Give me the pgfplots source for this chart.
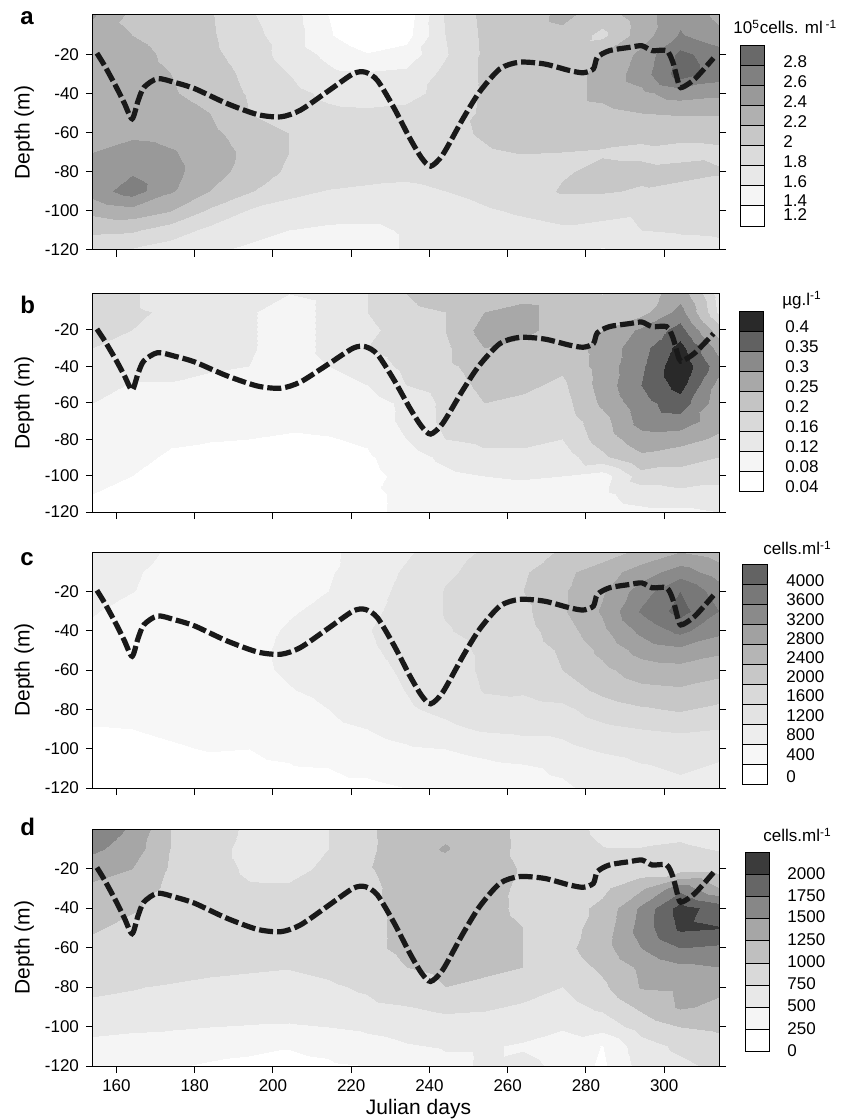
\documentclass[border=0pt]{standalone}
\usepackage{fontspec}
\setmainfont{Liberation Sans}
\usepackage{pgfplots}
\pgfplotsset{compat=1.18}

\pgfplotsset{
  panel/.style={
    scale only axis, anchor=north west, width=313pt,
    xmin=154, xmax=314, ymin=-120, ymax=0,
    xtick={160,180,...,300}, ytick={-120,-100,...,-20},
    xtick pos=left, ytick pos=both, yticklabel pos=left,
    tick align=outside, major tick length=3.5pt,
    every tick/.style={black, line width=0.5pt},
    axis line style={line width=0.5pt},
    tick label style={font=\fontsize{8.5}{10}\selectfont},
    /pgf/number format/assume math mode=true,
    ylabel={Depth (m)},
    ylabel style={font=\fontsize{10.5}{12}\selectfont,
      at={(axis description cs:-0.110,0.5)}, anchor=center},
    axis on top,
  },
  cbar/.style={
    scale only axis, anchor=north west, xmin=0, xmax=1, ymin=0,
    hide axis, ybar stacked, bar width=1, clip=false,
    every axis plot/.append style={draw=black, line width=0.5pt},
  },
  field/.style={surf, shader=interp, colormap access=piecewise constant,
    mesh/cols=17, point meta=\thisrow{v}},
}

% mixed layer depth (same line in all panels)
\newcommand{\mld}{\addplot[black!90, line width=2.6pt, dash pattern=on 7pt off 2pt,
  smooth, tension=0.45] coordinates {(155,-19.5) (157,-26) (160,-37) (162,-45)
  (164,-53) (165.5,-44) (167,-37) (170.5,-32.5) (175,-34.5) (180,-37.6) (188,-45)
  (196,-50.8) (202,-52) (207,-48.6) (214,-39) (220.5,-30) (223.6,-29.2)
  (226.7,-33.4) (231,-47.7) (235,-63) (238,-73) (240.3,-77.2) (243.4,-71.3)
  (248.6,-52.8) (252.8,-39.3) (258,-27.5) (263,-24.1) (269.4,-25) (275.7,-28.3)
  (279.3,-29.5) (281.9,-27.5) (282.9,-21.6) (286,-18.2) (291.2,-16.5)
  (294.3,-15.7) (296.9,-18.2) (300.6,-18.2) (302.2,-24.1) (303.8,-35.9)
  (304.8,-36.8) (307.9,-32.5) (312.6,-22)};}

\begin{document}
\begin{tikzpicture}
\useasboundingbox (0,0) rectangle (426.5pt,-559.5pt);

% ---------------- a ----------------
\begin{axis}[panel, at={(46.5pt,-7.5pt)}, height=117.5pt, xticklabels={},
  colormap={pa}{color(0cm)=(white) color(1cm)=(black!4) color(2cm)=(black!9)
    color(3cm)=(black!14) color(4cm)=(black!22) color(5cm)=(black!31)
    color(6cm)=(black!40) color(7cm)=(black!50) color(8cm)=(black!59) color(9cm)=(black!59)},
  point meta min=1.2, point meta max=3.0]
\addplot[field] table[row sep=\\] {
x y v\\
154 0 2.42\\ 164 0 2.15\\ 174 0 2.10\\ 184 0 2.02\\ 194 0 1.82\\ 204 0 1.70\\ 214 0 1.40\\ 224 0 1.25\\ 234 0 1.28\\ 244 0 1.82\\ 254 0 2.05\\ 264 0 2.10\\ 274 0 2.25\\ 284 0 2.10\\ 294 0 2.30\\ 304 0 2.55\\ 314 0 2.35\\
154 -10 2.30\\ 164 -10 2.20\\ 174 -10 2.10\\ 184 -10 2.03\\ 194 -10 1.85\\ 204 -10 1.72\\ 214 -10 1.42\\ 224 -10 1.25\\ 234 -10 1.32\\ 244 -10 1.80\\ 254 -10 2.04\\ 264 -10 2.10\\ 274 -10 2.15\\ 284 -10 1.95\\ 294 -10 2.30\\ 304 -10 2.62\\ 314 -10 2.45\\
154 -20 2.30\\ 164 -20 2.28\\ 174 -20 2.15\\ 184 -20 2.05\\ 194 -20 1.90\\ 204 -20 1.72\\ 214 -20 1.55\\ 224 -20 1.41\\ 234 -20 1.48\\ 244 -20 1.78\\ 254 -20 2.03\\ 264 -20 2.10\\ 274 -20 2.12\\ 284 -20 2.20\\ 294 -20 2.45\\ 304 -20 2.85\\ 314 -20 2.70\\
154 -30 2.30\\ 164 -30 2.30\\ 174 -30 2.20\\ 184 -30 2.10\\ 194 -30 1.95\\ 204 -30 1.80\\ 214 -30 1.65\\ 224 -30 1.62\\ 234 -30 1.65\\ 244 -30 1.85\\ 254 -30 2.03\\ 264 -30 2.10\\ 274 -30 2.12\\ 284 -30 2.25\\ 294 -30 2.50\\ 304 -30 2.90\\ 314 -30 2.70\\
154 -40 2.30\\ 164 -40 2.30\\ 174 -40 2.22\\ 184 -40 2.12\\ 194 -40 1.98\\ 204 -40 1.86\\ 214 -40 1.76\\ 224 -40 1.72\\ 234 -40 1.74\\ 244 -40 1.86\\ 254 -40 2.02\\ 264 -40 2.08\\ 274 -40 2.12\\ 284 -40 2.25\\ 294 -40 2.35\\ 304 -40 2.50\\ 314 -40 2.45\\
154 -50 2.30\\ 164 -50 2.32\\ 174 -50 2.30\\ 184 -50 2.20\\ 194 -50 2.00\\ 204 -50 1.90\\ 214 -50 1.84\\ 224 -50 1.83\\ 234 -50 1.85\\ 244 -50 1.90\\ 254 -50 2.03\\ 264 -50 2.06\\ 274 -50 2.12\\ 284 -50 2.15\\ 294 -50 2.20\\ 304 -50 2.22\\ 314 -50 2.22\\
154 -60 2.35\\ 164 -60 2.35\\ 174 -60 2.32\\ 184 -60 2.25\\ 194 -60 2.10\\ 204 -60 2.00\\ 214 -60 1.90\\ 224 -60 1.88\\ 234 -60 1.90\\ 244 -60 1.95\\ 254 -60 2.02\\ 264 -60 2.08\\ 274 -60 2.10\\ 284 -60 2.10\\ 294 -60 2.05\\ 304 -60 2.08\\ 314 -60 2.08\\
154 -70 2.40\\ 164 -70 2.50\\ 174 -70 2.42\\ 184 -70 2.30\\ 194 -70 2.15\\ 204 -70 2.00\\ 214 -70 1.92\\ 224 -70 1.90\\ 234 -70 1.90\\ 244 -70 1.92\\ 254 -70 1.98\\ 264 -70 2.01\\ 274 -70 2.00\\ 284 -70 1.98\\ 294 -70 1.96\\ 304 -70 1.92\\ 314 -70 1.95\\
154 -80 2.50\\ 164 -80 2.58\\ 174 -80 2.45\\ 184 -80 2.30\\ 194 -80 2.10\\ 204 -80 1.97\\ 214 -80 1.90\\ 224 -80 1.88\\ 234 -80 1.85\\ 244 -80 1.88\\ 254 -80 1.90\\ 264 -80 1.90\\ 274 -80 1.98\\ 284 -80 2.05\\ 294 -80 2.05\\ 304 -80 2.08\\ 314 -80 2.02\\
154 -90 2.50\\ 164 -90 2.70\\ 174 -90 2.42\\ 184 -90 2.20\\ 194 -90 2.02\\ 204 -90 1.85\\ 214 -90 1.79\\ 224 -90 1.76\\ 234 -90 1.75\\ 244 -90 1.80\\ 254 -90 1.85\\ 264 -90 1.90\\ 274 -90 2.02\\ 284 -90 2.02\\ 294 -90 1.98\\ 304 -90 1.92\\ 314 -90 1.90\\
154 -100 2.25\\ 164 -100 2.32\\ 174 -100 2.20\\ 184 -100 1.96\\ 194 -100 1.78\\ 204 -100 1.72\\ 214 -100 1.70\\ 224 -100 1.68\\ 234 -100 1.68\\ 244 -100 1.72\\ 254 -100 1.78\\ 264 -100 1.82\\ 274 -100 1.85\\ 284 -100 1.85\\ 294 -100 1.82\\ 304 -100 1.85\\ 314 -100 1.85\\
154 -110 2.05\\ 164 -110 2.03\\ 174 -110 1.90\\ 184 -110 1.75\\ 194 -110 1.68\\ 204 -110 1.60\\ 214 -110 1.56\\ 224 -110 1.56\\ 234 -110 1.62\\ 244 -110 1.68\\ 254 -110 1.72\\ 264 -110 1.75\\ 274 -110 1.78\\ 284 -110 1.75\\ 294 -110 1.80\\ 304 -110 1.82\\ 314 -110 1.83\\
154 -120 1.82\\ 164 -120 1.78\\ 174 -120 1.70\\ 184 -120 1.63\\ 194 -120 1.56\\ 204 -120 1.52\\ 214 -120 1.50\\ 224 -120 1.52\\ 234 -120 1.62\\ 244 -120 1.65\\ 254 -120 1.70\\ 264 -120 1.70\\ 274 -120 1.66\\ 284 -120 1.58\\ 294 -120 1.68\\ 304 -120 1.72\\ 314 -120 1.75\\
};
\mld
\end{axis}

% ---------------- b ----------------
\begin{axis}[panel, at={(46.5pt,-146.75pt)}, height=109.25pt, xticklabels={},
  colormap={pb}{color(0cm)=(white) color(4cm)=(black!4) color(8cm)=(black!9)
    color(12cm)=(black!15) color(16cm)=(black!23) color(21cm)=(black!34)
    color(26cm)=(black!46) color(31cm)=(black!62) color(36cm)=(black!84) color(41cm)=(black!84)},
  point meta min=0.04, point meta max=0.45]
\addplot[field] table[row sep=\\] {
x y v\\
154 0 .17\\ 164 0 .165\\ 174 0 .14\\ 184 0 .14\\ 194 0 .13\\ 204 0 .12\\ 214 0 .13\\ 224 0 .16\\ 234 0 .20\\ 244 0 .22\\ 254 0 .23\\ 264 0 .23\\ 274 0 .22\\ 284 0 .20\\ 294 0 .22\\ 304 0 .28\\ 314 0 .14\\
154 -10 .18\\ 164 -10 .165\\ 174 -10 .155\\ 184 -10 .14\\ 194 -10 .125\\ 204 -10 .10\\ 214 -10 .13\\ 224 -10 .16\\ 234 -10 .19\\ 244 -10 .20\\ 254 -10 .25\\ 264 -10 .27\\ 274 -10 .22\\ 284 -10 .21\\ 294 -10 .23\\ 304 -10 .32\\ 314 -10 .15\\
154 -20 .17\\ 164 -20 .16\\ 174 -20 .14\\ 184 -20 .135\\ 194 -20 .125\\ 204 -20 .10\\ 214 -20 .13\\ 224 -20 .15\\ 234 -20 .18\\ 244 -20 .20\\ 254 -20 .27\\ 264 -20 .27\\ 274 -20 .22\\ 284 -20 .25\\ 294 -20 .31\\ 304 -20 .37\\ 314 -20 .22\\
154 -30 .16\\ 164 -30 .14\\ 174 -30 .135\\ 184 -30 .13\\ 194 -30 .125\\ 204 -30 .10\\ 214 -30 .13\\ 224 -30 .16\\ 234 -30 .18\\ 244 -30 .19\\ 254 -30 .25\\ 264 -30 .23\\ 274 -30 .22\\ 284 -30 .27\\ 294 -30 .33\\ 304 -30 .42\\ 314 -30 .28\\
154 -40 .14\\ 164 -40 .135\\ 174 -40 .13\\ 184 -40 .125\\ 194 -40 .12\\ 204 -40 .10\\ 214 -40 .12\\ 224 -40 .14\\ 234 -40 .17\\ 244 -40 .19\\ 254 -40 .22\\ 264 -40 .22\\ 274 -40 .21\\ 284 -40 .27\\ 294 -40 .34\\ 304 -40 .44\\ 314 -40 .32\\
154 -50 .13\\ 164 -50 .118\\ 174 -50 .118\\ 184 -50 .11\\ 194 -50 .10\\ 204 -50 .095\\ 214 -50 .10\\ 224 -50 .12\\ 234 -50 .16\\ 244 -50 .18\\ 254 -50 .21\\ 264 -50 .21\\ 274 -50 .19\\ 284 -50 .27\\ 294 -50 .35\\ 304 -50 .42\\ 314 -50 .28\\
154 -60 .12\\ 164 -60 .10\\ 174 -60 .10\\ 184 -60 .095\\ 194 -60 .09\\ 204 -60 .09\\ 214 -60 .09\\ 224 -60 .10\\ 234 -60 .13\\ 244 -60 .17\\ 254 -60 .20\\ 264 -60 .19\\ 274 -60 .18\\ 284 -60 .26\\ 294 -60 .33\\ 304 -60 .38\\ 314 -60 .27\\
154 -70 .10\\ 164 -70 .095\\ 174 -70 .095\\ 184 -70 .09\\ 194 -70 .09\\ 204 -70 .09\\ 214 -70 .09\\ 224 -70 .095\\ 234 -70 .13\\ 244 -70 .17\\ 254 -70 .20\\ 264 -70 .19\\ 274 -70 .17\\ 284 -70 .23\\ 294 -70 .32\\ 304 -70 .33\\ 314 -70 .27\\
154 -80 .10\\ 164 -80 .09\\ 174 -80 .085\\ 184 -80 .082\\ 194 -80 .08\\ 204 -80 .075\\ 214 -80 .078\\ 224 -80 .085\\ 234 -80 .12\\ 244 -80 .16\\ 254 -80 .17\\ 264 -80 .17\\ 274 -80 .16\\ 284 -80 .22\\ 294 -80 .28\\ 304 -80 .27\\ 314 -80 .24\\
154 -90 .10\\ 164 -90 .09\\ 174 -90 .075\\ 184 -90 .07\\ 194 -90 .065\\ 204 -90 .065\\ 214 -90 .068\\ 224 -90 .075\\ 234 -90 .10\\ 244 -90 .13\\ 254 -90 .15\\ 264 -90 .15\\ 274 -90 .14\\ 284 -90 .19\\ 294 -90 .24\\ 304 -90 .22\\ 314 -90 .20\\
154 -100 .09\\ 164 -100 .08\\ 174 -100 .07\\ 184 -100 .065\\ 194 -100 .06\\ 204 -100 .06\\ 214 -100 .065\\ 224 -100 .07\\ 234 -100 .09\\ 244 -100 .11\\ 254 -100 .12\\ 264 -100 .125\\ 274 -100 .12\\ 284 -100 .10\\ 294 -100 .18\\ 304 -100 .18\\ 314 -100 .17\\
154 -110 .08\\ 164 -110 .075\\ 174 -110 .065\\ 184 -110 .062\\ 194 -110 .06\\ 204 -110 .06\\ 214 -110 .062\\ 224 -110 .075\\ 234 -110 .085\\ 244 -110 .10\\ 254 -110 .10\\ 264 -110 .10\\ 274 -110 .10\\ 284 -110 .11\\ 294 -110 .14\\ 304 -110 .15\\ 314 -110 .15\\
154 -120 .08\\ 164 -120 .07\\ 174 -120 .06\\ 184 -120 .06\\ 194 -120 .06\\ 204 -120 .06\\ 214 -120 .06\\ 224 -120 .075\\ 234 -120 .085\\ 244 -120 .09\\ 254 -120 .09\\ 264 -120 .09\\ 274 -120 .09\\ 284 -120 .10\\ 294 -120 .11\\ 304 -120 .11\\ 314 -120 .12\\
};
\mld
\end{axis}

% ---------------- c ----------------
\begin{axis}[panel, at={(46.5pt,-276pt)}, height=118pt, xticklabels={},
  colormap={pc}{color(0cm)=(white) color(1cm)=(black!3) color(2cm)=(black!7)
    color(3cm)=(black!11) color(4cm)=(black!15) color(5cm)=(black!22)
    color(6cm)=(black!29) color(7cm)=(black!37) color(8cm)=(black!46)
    color(9cm)=(black!53) color(10cm)=(black!61) color(11cm)=(black!61)},
  point meta min=0, point meta max=4400]
\addplot[field] table[row sep=\\] {
x y v\\
154 0 900\\ 164 0 850\\ 174 0 780\\ 184 0 600\\ 194 0 600\\ 204 0 650\\ 214 0 750\\ 224 0 900\\ 234 0 1150\\ 244 0 1400\\ 254 0 1650\\ 264 0 1800\\ 274 0 2050\\ 284 0 2200\\ 294 0 2500\\ 304 0 2800\\ 314 0 2600\\
154 -10 880\\ 164 -10 830\\ 174 -10 720\\ 184 -10 600\\ 194 -10 600\\ 204 -10 650\\ 214 -10 760\\ 224 -10 1000\\ 234 -10 1250\\ 244 -10 1550\\ 254 -10 1700\\ 264 -10 1950\\ 274 -10 2300\\ 284 -10 2600\\ 294 -10 3000\\ 304 -10 3400\\ 314 -10 3000\\
154 -20 850\\ 164 -20 810\\ 174 -20 650\\ 184 -20 600\\ 194 -20 600\\ 204 -20 700\\ 214 -20 800\\ 224 -20 1050\\ 234 -20 1300\\ 244 -20 1620\\ 254 -20 1750\\ 264 -20 2000\\ 274 -20 2350\\ 284 -20 2750\\ 294 -20 3400\\ 304 -20 4000\\ 314 -20 3400\\
154 -30 820\\ 164 -30 700\\ 174 -30 620\\ 184 -30 580\\ 194 -30 620\\ 204 -30 760\\ 214 -30 900\\ 224 -30 1100\\ 234 -30 1350\\ 244 -30 1620\\ 254 -30 1700\\ 264 -30 1900\\ 274 -30 2350\\ 284 -30 2850\\ 294 -30 3650\\ 304 -30 4150\\ 314 -30 3600\\
154 -40 750\\ 164 -40 650\\ 174 -40 600\\ 184 -40 580\\ 194 -40 650\\ 204 -40 850\\ 214 -40 950\\ 224 -40 1180\\ 234 -40 1350\\ 244 -40 1580\\ 254 -40 1680\\ 264 -40 1850\\ 274 -40 2200\\ 284 -40 2700\\ 294 -40 3300\\ 304 -40 3700\\ 314 -40 3300\\
154 -50 700\\ 164 -50 620\\ 174 -50 580\\ 184 -50 560\\ 194 -50 700\\ 204 -50 880\\ 214 -50 980\\ 224 -50 1150\\ 234 -50 1300\\ 244 -50 1500\\ 254 -50 1650\\ 264 -50 1800\\ 274 -50 2050\\ 284 -50 2500\\ 294 -50 2950\\ 304 -50 3100\\ 314 -50 2900\\
154 -60 650\\ 164 -60 600\\ 174 -60 560\\ 184 -60 540\\ 194 -60 700\\ 204 -60 860\\ 214 -60 960\\ 224 -60 1100\\ 234 -60 1250\\ 244 -60 1450\\ 254 -60 1650\\ 264 -60 1750\\ 274 -60 2000\\ 284 -60 2300\\ 294 -60 2600\\ 304 -60 2650\\ 314 -60 2500\\
154 -70 600\\ 164 -70 560\\ 174 -70 530\\ 184 -70 520\\ 194 -70 620\\ 204 -70 780\\ 214 -70 900\\ 224 -70 1050\\ 234 -70 1210\\ 244 -70 1400\\ 254 -70 1620\\ 264 -70 1650\\ 274 -70 1800\\ 284 -70 2100\\ 294 -70 2300\\ 304 -70 2350\\ 314 -70 2250\\
154 -80 550\\ 164 -80 520\\ 174 -80 500\\ 184 -80 480\\ 194 -80 540\\ 204 -80 650\\ 214 -80 800\\ 224 -80 980\\ 234 -80 1150\\ 244 -80 1300\\ 254 -80 1500\\ 264 -80 1450\\ 274 -80 1500\\ 284 -80 1800\\ 294 -80 1950\\ 304 -80 2050\\ 314 -80 1900\\
154 -90 380\\ 164 -90 400\\ 174 -90 430\\ 184 -90 460\\ 194 -90 480\\ 204 -90 560\\ 214 -90 700\\ 224 -90 800\\ 234 -90 950\\ 244 -90 1100\\ 254 -90 1250\\ 264 -90 1300\\ 274 -90 1300\\ 284 -90 1500\\ 294 -90 1600\\ 304 -90 1650\\ 314 -90 1600\\
154 -100 320\\ 164 -100 350\\ 174 -100 380\\ 184 -100 410\\ 194 -100 400\\ 204 -100 450\\ 214 -100 550\\ 224 -100 650\\ 234 -100 750\\ 244 -100 800\\ 254 -100 900\\ 264 -100 1000\\ 274 -100 1100\\ 284 -100 1250\\ 294 -100 1350\\ 304 -100 1400\\ 314 -100 1300\\
154 -110 280\\ 164 -110 300\\ 174 -110 320\\ 184 -110 340\\ 194 -110 360\\ 204 -110 380\\ 214 -110 400\\ 224 -110 470\\ 234 -110 550\\ 244 -110 620\\ 254 -110 700\\ 264 -110 750\\ 274 -110 850\\ 284 -110 1000\\ 294 -110 1150\\ 304 -110 1250\\ 314 -110 1150\\
154 -120 250\\ 164 -120 260\\ 174 -120 280\\ 184 -120 290\\ 194 -120 300\\ 204 -120 310\\ 214 -120 320\\ 224 -120 330\\ 234 -120 400\\ 244 -120 450\\ 254 -120 500\\ 264 -120 700\\ 274 -120 750\\ 284 -120 900\\ 294 -120 1000\\ 304 -120 1100\\ 314 -120 1000\\
};
\mld
\end{axis}

% ---------------- d ----------------
\begin{axis}[panel, at={(46.5pt,-414.5pt)}, height=118.5pt,
  xlabel={Julian days},
  xlabel style={font=\fontsize{10.5}{12}\selectfont,
    at={(axis description cs:0.52,-0.18)}, anchor=center},
  colormap={pd}{color(0cm)=(white) color(1cm)=(black!4) color(2cm)=(black!9)
    color(3cm)=(black!15) color(4cm)=(black!25) color(5cm)=(black!35)
    color(6cm)=(black!47) color(7cm)=(black!60) color(8cm)=(black!77) color(9cm)=(black!77)},
  point meta min=0, point meta max=2250]
\addplot[field] table[row sep=\\] {
x y v\\
154 0 1600\\ 164 0 1480\\ 174 0 1000\\ 184 0 880\\ 194 0 700\\ 204 0 650\\ 214 0 750\\ 224 0 950\\ 234 0 1150\\ 244 0 1200\\ 254 0 1100\\ 264 0 950\\ 274 0 850\\ 284 0 700\\ 294 0 650\\ 304 0 700\\ 314 0 650\\
154 -10 1550\\ 164 -10 1380\\ 174 -10 990\\ 184 -10 870\\ 194 -10 650\\ 204 -10 620\\ 214 -10 750\\ 224 -10 950\\ 234 -10 1150\\ 244 -10 1270\\ 254 -10 1100\\ 264 -10 950\\ 274 -10 870\\ 284 -10 760\\ 294 -10 760\\ 304 -10 780\\ 314 -10 740\\
154 -20 1350\\ 164 -20 1250\\ 174 -20 970\\ 184 -20 880\\ 194 -20 700\\ 204 -20 680\\ 214 -20 800\\ 224 -20 980\\ 234 -20 1100\\ 244 -20 1150\\ 254 -20 1100\\ 264 -20 980\\ 274 -20 900\\ 284 -20 850\\ 294 -20 850\\ 304 -20 880\\ 314 -20 900\\
154 -30 1200\\ 164 -30 1150\\ 174 -30 940\\ 184 -30 900\\ 194 -30 780\\ 204 -30 780\\ 214 -30 850\\ 224 -30 950\\ 234 -30 1080\\ 244 -30 1120\\ 254 -30 1100\\ 264 -30 950\\ 274 -30 900\\ 284 -30 950\\ 294 -30 1200\\ 304 -30 1650\\ 314 -30 1250\\
154 -40 1100\\ 164 -40 1020\\ 174 -40 950\\ 184 -40 900\\ 194 -40 850\\ 204 -40 850\\ 214 -40 880\\ 224 -40 950\\ 234 -40 1050\\ 244 -40 1120\\ 254 -40 1080\\ 264 -40 950\\ 274 -40 900\\ 284 -40 1050\\ 294 -40 1550\\ 304 -40 2100\\ 314 -40 1900\\
154 -50 1020\\ 164 -50 950\\ 174 -50 920\\ 184 -50 900\\ 194 -50 880\\ 204 -50 870\\ 214 -50 880\\ 224 -50 950\\ 234 -50 1050\\ 244 -50 1120\\ 254 -50 1100\\ 264 -50 1000\\ 274 -50 900\\ 284 -50 1100\\ 294 -50 1600\\ 304 -50 2050\\ 314 -50 2010\\
154 -60 950\\ 164 -60 920\\ 174 -60 900\\ 184 -60 890\\ 194 -60 880\\ 204 -60 880\\ 214 -60 890\\ 224 -60 950\\ 234 -60 1050\\ 244 -60 1100\\ 254 -60 1080\\ 264 -60 1000\\ 274 -60 920\\ 284 -60 1150\\ 294 -60 1500\\ 304 -60 1750\\ 314 -60 1700\\
154 -70 870\\ 164 -70 860\\ 174 -70 840\\ 184 -70 800\\ 194 -70 780\\ 204 -70 760\\ 214 -70 800\\ 224 -70 880\\ 234 -70 1000\\ 244 -70 1050\\ 254 -70 1050\\ 264 -70 1000\\ 274 -70 850\\ 284 -70 1050\\ 294 -70 1300\\ 304 -70 1450\\ 314 -70 1500\\
154 -80 780\\ 164 -80 760\\ 174 -80 730\\ 184 -80 700\\ 194 -80 680\\ 204 -80 680\\ 214 -80 720\\ 224 -80 780\\ 234 -80 900\\ 244 -80 1000\\ 254 -80 950\\ 264 -80 850\\ 274 -80 750\\ 284 -80 950\\ 294 -80 1270\\ 304 -80 1300\\ 314 -80 1300\\
154 -90 720\\ 164 -90 700\\ 174 -90 690\\ 184 -90 680\\ 194 -90 650\\ 204 -90 620\\ 214 -90 660\\ 224 -90 700\\ 234 -90 740\\ 244 -90 800\\ 254 -90 780\\ 264 -90 720\\ 274 -90 650\\ 284 -90 800\\ 294 -90 1050\\ 304 -90 1280\\ 314 -90 1200\\
154 -100 550\\ 164 -100 530\\ 174 -100 520\\ 184 -100 500\\ 194 -100 480\\ 204 -100 470\\ 214 -100 500\\ 224 -100 550\\ 234 -100 600\\ 244 -100 650\\ 254 -100 640\\ 264 -100 580\\ 274 -100 520\\ 284 -100 600\\ 294 -100 850\\ 304 -100 1000\\ 314 -100 1050\\
154 -110 450\\ 164 -110 430\\ 174 -110 400\\ 184 -110 350\\ 194 -110 300\\ 204 -110 260\\ 214 -110 300\\ 224 -110 400\\ 234 -110 480\\ 244 -110 520\\ 254 -110 520\\ 264 -110 480\\ 274 -110 400\\ 284 -110 240\\ 294 -110 650\\ 304 -110 800\\ 314 -110 900\\
154 -120 400\\ 164 -120 350\\ 174 -120 270\\ 184 -120 220\\ 194 -120 200\\ 204 -120 200\\ 214 -120 220\\ 224 -120 250\\ 234 -120 350\\ 244 -120 450\\ 254 -120 520\\ 264 -120 560\\ 274 -120 450\\ 284 -120 200\\ 294 -120 600\\ 304 -120 700\\ 314 -120 800\\
};
\mld
\end{axis}

% ---------------- colour keys ----------------
\begin{axis}[cbar, at={(370pt,-22.5pt)}, width=12pt, height=90.5pt, ymax=9]
\addplot[fill=white] coordinates {(0.5,1)};
\addplot[fill=black!4] coordinates {(0.5,1)};
\addplot[fill=black!9] coordinates {(0.5,1)};
\addplot[fill=black!14] coordinates {(0.5,1)};
\addplot[fill=black!22] coordinates {(0.5,1)};
\addplot[fill=black!31] coordinates {(0.5,1)};
\addplot[fill=black!40] coordinates {(0.5,1)};
\addplot[fill=black!50] coordinates {(0.5,1)};
\addplot[fill=black!59] coordinates {(0.5,1)};
\end{axis}
\begin{axis}[cbar, at={(369.5pt,-155.5pt)}, width=12pt, height=90pt, ymax=9]
\addplot[fill=white] coordinates {(0.5,1)};
\addplot[fill=black!4] coordinates {(0.5,1)};
\addplot[fill=black!9] coordinates {(0.5,1)};
\addplot[fill=black!15] coordinates {(0.5,1)};
\addplot[fill=black!23] coordinates {(0.5,1)};
\addplot[fill=black!34] coordinates {(0.5,1)};
\addplot[fill=black!46] coordinates {(0.5,1)};
\addplot[fill=black!62] coordinates {(0.5,1)};
\addplot[fill=black!84] coordinates {(0.5,1)};
\end{axis}
\begin{axis}[cbar, at={(371pt,-282pt)}, width=12.5pt, height=110pt, ymax=11]
\addplot[fill=white] coordinates {(0.5,1)};
\addplot[fill=black!3] coordinates {(0.5,1)};
\addplot[fill=black!7] coordinates {(0.5,1)};
\addplot[fill=black!11] coordinates {(0.5,1)};
\addplot[fill=black!15] coordinates {(0.5,1)};
\addplot[fill=black!22] coordinates {(0.5,1)};
\addplot[fill=black!29] coordinates {(0.5,1)};
\addplot[fill=black!37] coordinates {(0.5,1)};
\addplot[fill=black!46] coordinates {(0.5,1)};
\addplot[fill=black!53] coordinates {(0.5,1)};
\addplot[fill=black!61] coordinates {(0.5,1)};
\end{axis}
\begin{axis}[cbar, at={(372.5pt,-426pt)}, width=12pt, height=100pt, ymax=9]
\addplot[fill=white] coordinates {(0.5,1)};
\addplot[fill=black!4] coordinates {(0.5,1)};
\addplot[fill=black!9] coordinates {(0.5,1)};
\addplot[fill=black!15] coordinates {(0.5,1)};
\addplot[fill=black!25] coordinates {(0.5,1)};
\addplot[fill=black!35] coordinates {(0.5,1)};
\addplot[fill=black!47] coordinates {(0.5,1)};
\addplot[fill=black!60] coordinates {(0.5,1)};
\addplot[fill=black!77] coordinates {(0.5,1)};
\end{axis}

% key titles and labels
\begin{scope}[every node/.style={anchor=west, inner sep=0pt, font=\fontsize{8.5}{10}\selectfont}]
\node at (366.5pt,-13.5pt) {10\textsuperscript{5}cells. ml\,\textsuperscript{-1}};
\node at (391pt,-150pt) {µg.l\textsuperscript{-1}};
\node at (381.5pt,-274pt) {cells.ml\textsuperscript{-1}};
\node at (381.5pt,-417.5pt) {cells.ml\textsuperscript{-1}};
\foreach \t/\y in {2.8/62, 2.6/82, 2.4/102, 2.2/122, 2/142, 1.8/162, 1.6/182, 1.4/201, 1.2/215}
  \node at (391.5pt,-\y*0.5pt) {\t};
\foreach \t/\y in {0.4/327, 0.35/347, 0.3/367, 0.25/387, 0.2/407, 0.16/427, 0.12/447, 0.08/467, 0.04/487}
  \node at (392.5pt,-\y*0.5pt) {\t};
\foreach \t/\y in {4000/580.7, 3600/600, 3200/619.3, 2800/638.7, 2400/657.3, 2000/676.7, 1600/696, 1200/715.7, 800/735, 400/755, 0/776.7}
  \node at (393pt,-\y*0.5pt) {\t};
\foreach \t/\y in {2000/873.3, 1750/895.7, 1500/916.7, 1250/939.3, 1000/961.7, 750/984, 500/1006, 250/1028.3, 0/1050.7}
  \node at (393.5pt,-\y*0.5pt) {\t};
\end{scope}

% panel letters
\begin{scope}[every node/.style={anchor=base west, inner sep=0pt, font=\bfseries\fontsize{12}{14}\selectfont}]
\node at (10pt,-12.5pt) {a};
\node at (10pt,-156.5pt) {b};
\node at (10pt,-282.5pt) {c};
\node at (10pt,-417.5pt) {d};
\end{scope}
\end{tikzpicture}
\end{document}
